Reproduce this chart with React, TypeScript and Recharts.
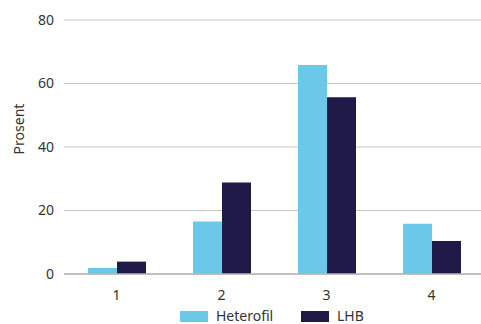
import { BarChart, Bar, XAxis, YAxis, CartesianGrid, Legend, Label } from 'recharts';

const categories = ['1', '2', '3', '4'];
const heterofil = [1.9, 16.5, 65.8, 15.8];
const lhb = [3.9, 28.8, 55.7, 10.4];
const yTicks = [0, 20, 40, 60, 80];

const data = categories.map((c, i) => ({ name: c, Heterofil: heterofil[i], LHB: lhb[i] }));

const colors = { Heterofil: '#6cc8e8', LHB: '#201a48' };
const font = '"Noto Sans", "Open Sans", sans-serif';

function LegendBox() {
  const items = [
    { key: 'Heterofil', x: 180, w: 28 },
    { key: 'LHB', x: 301, w: 28 },
  ];
  return (
    <div style={{ position: 'relative', height: 16, width: 481 }}>
      {items.map((it) => (
        <div key={it.key} style={{ position: 'absolute', left: it.x, top: 2, display: 'flex', alignItems: 'center' }}>
          <span style={{ display: 'inline-block', width: it.w, height: 11, background: colors[it.key as keyof typeof colors] }} />
          <span style={{ marginLeft: 8, fontFamily: font, fontSize: 14, color: '#333', lineHeight: '14px' }}>{it.key}</span>
        </div>
      ))}
    </div>
  );
}

export default function App() {
  return (
    <div style={{ position: 'absolute', left: 0, top: 0, width: 481, height: 324, overflow: 'hidden', background: '#fff' }}>
      <BarChart
        width={486}
        height={324}
        data={data}
        margin={{ top: 20, right: 2, left: 0, bottom: 0 }}
        barGap={0}
        barSize={29}
      >
        <CartesianGrid vertical={false} stroke="#c6c6c6" strokeWidth={1.2} />
        <XAxis
          dataKey="name"
          axisLine={{ stroke: '#b4b4b4', strokeWidth: 1.5 }}
          tickLine={false}
          tick={{ fill: '#333', fontSize: 14, fontFamily: font }}
          tickMargin={10}
          height={34}
        />
        <YAxis
          width={64}
          domain={[0, 80]}
          ticks={yTicks}
          axisLine={false}
          tickLine={false}
          tickSize={0}
          tickMargin={10}
          tick={{ fill: '#333', fontSize: 14, fontFamily: font }}
        >
          <Label
            value="Prosent"
            angle={-90}
            position="insideLeft"
            offset={19}
            dy={-18}
            style={{ fill: '#333', fontSize: 14, fontFamily: font, textAnchor: 'middle' }}
          />
        </YAxis>
        <Legend verticalAlign="bottom" content={<LegendBox />} wrapperStyle={{ left: 0, bottom: 1 }} />
        <Bar dataKey="Heterofil" fill={colors.Heterofil} isAnimationActive={false} />
        <Bar dataKey="LHB" fill={colors.LHB} isAnimationActive={false} />
      </BarChart>
    </div>
  );
}
